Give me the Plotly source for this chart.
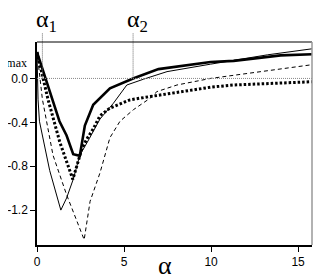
import plotly.graph_objects as go

# --- data ---
thick_x = [0, 0.83, 1.29, 1.70, 2.08, 2.46, 2.75, 3.23, 3.62, 4.19, 5.52, 6.98, 9.97, 11.3, 14.0, 15.8]
thick_y = [0.24, -0.17, -0.39, -0.52, -0.69, -0.705, -0.43, -0.24, -0.18, -0.09, 0.0, 0.085, 0.15, 0.16, 0.21, 0.22]

thin_x = [0, 0.06, 0.14, 0.73, 1.37, 1.70, 2.08, 2.46, 3.0, 3.43, 3.62, 4.39, 5.16, 6.12, 7.47, 9.97, 13.24, 15.8]
thin_y = [0.24, -0.19, -0.39, -0.84, -1.20, -1.09, -0.92, -0.70, -0.55, -0.42, -0.37, -0.226, -0.06, -0.007, 0.062, 0.13, 0.215, 0.27]

dot_x = [0, 0.63, 1.31, 2.06, 2.58, 2.87, 3.23, 3.62, 4.19, 5.35, 6.5, 8.42, 9.97, 11.3, 15.8]
dot_y = [0.24, -0.19, -0.58, -0.92, -0.64, -0.55, -0.46, -0.34, -0.27, -0.195, -0.165, -0.12, -0.08, -0.06, -0.03]

dash_x = [0, 0.31, 0.92, 1.70, 2.71, 3.05, 3.62, 4.19, 4.77, 5.54, 6.5, 6.89, 8.04, 9.97, 15.8]
dash_y = [0.24, -0.19, -0.70, -1.06, -1.47, -1.12, -0.86, -0.54, -0.39, -0.285, -0.18, -0.12, -0.06, 0.0, 0.125]

alpha1 = 0.31
alpha2 = 5.52

x_ticks = [0, 5, 10, 15]
y_ticks = [0.0, -0.4, -0.8, -1.2]
y_tick_text = ["0.0", "-0.4", "-0.8", "-1.2"]

X_RANGE = [0, 15.8]
Y_RANGE = [-1.518, 0.332]

fig = go.Figure()
fig.add_trace(go.Scatter(x=dash_x, y=dash_y, mode="lines",
                         line=dict(color="black", width=1, dash="4px,3px")))
fig.add_trace(go.Scatter(x=thin_x, y=thin_y, mode="lines",
                         line=dict(color="black", width=1)))
fig.add_trace(go.Scatter(x=dot_x, y=dot_y, mode="lines",
                         line=dict(color="black", width=3, dash="2.5px,2px")))
fig.add_trace(go.Scatter(x=thick_x, y=thick_y, mode="lines",
                         line=dict(color="black", width=2.6)))

def ypaper(v):
    return (v - Y_RANGE[0]) / (Y_RANGE[1] - Y_RANGE[0])

shapes = []
shapes.append(dict(type="line", xref="paper", yref="y", x0=0, x1=1, y0=0, y1=0,
                   line=dict(color="#888", width=1, dash="1px,1px")))
for a in (alpha1, alpha2):
    shapes.append(dict(type="line", xref="x", yref="paper", x0=a, x1=a,
                       y0=ypaper(0), y1=1.045,
                       line=dict(color="#666", width=1, dash="1px,1px")))
shapes.append(dict(type="line", xref="paper", yref="paper", x0=0, x1=1, y0=1, y1=1,
                   line=dict(color="black", width=1)))
shapes.append(dict(type="line", xref="paper", yref="paper", x0=1, x1=1, y0=0, y1=1,
                   line=dict(color="#999", width=1.5)))

serif = "Liberation Serif, Times New Roman, serif"
annotations = [
    dict(text="α<sub>1</sub>", x=alpha1, xref="x", y=1.02, yref="paper",
         xanchor="center", yanchor="bottom", showarrow=False,
         font=dict(family=serif, size=24, color="black"), xshift=4),
    dict(text="α<sub>2</sub>", x=alpha2, xref="x", y=1.02, yref="paper",
         xanchor="center", yanchor="bottom", showarrow=False,
         font=dict(family=serif, size=24, color="black"), xshift=4),
    dict(text="α", x=7.37, xref="x", y=-0.1, yref="paper",
         xanchor="center", yanchor="middle", showarrow=False,
         font=dict(family=serif, size=26, color="black")),
    dict(text="γmax", x=0, xref="paper", y=0.14, yref="y", xshift=-8,
         xanchor="right", yanchor="middle", showarrow=False,
         font=dict(family=serif, size=12, color="black")),
]

# The page adds an 8px body margin, so the figure is laid out 8px smaller
fig.update_layout(
    width=324, height=272,
    margin=dict(l=29.3, r=20.3, t=34, b=34.5, autoexpand=False),
    paper_bgcolor="white", plot_bgcolor="white",
    showlegend=False,
    shapes=shapes,
    annotations=annotations,
    xaxis=dict(range=X_RANGE, tickvals=x_ticks, showgrid=False, zeroline=False,
               showline=True, linecolor="black", linewidth=1.5, automargin=False,
               ticks="outside", ticklen=5, tickcolor="black",
               tickfont=dict(family="Liberation Sans, Arial, sans-serif", size=12, color="black")),
    yaxis=dict(range=Y_RANGE, tickvals=y_ticks, ticktext=y_tick_text,
               showgrid=False, zeroline=False, automargin=False,
               showline=True, linecolor="black", linewidth=1.5,
               ticks="outside", ticklen=5, tickcolor="black",
               tickfont=dict(family="Liberation Sans, Arial, sans-serif", size=12, color="black")),
)

fig.write_html("out.html")
